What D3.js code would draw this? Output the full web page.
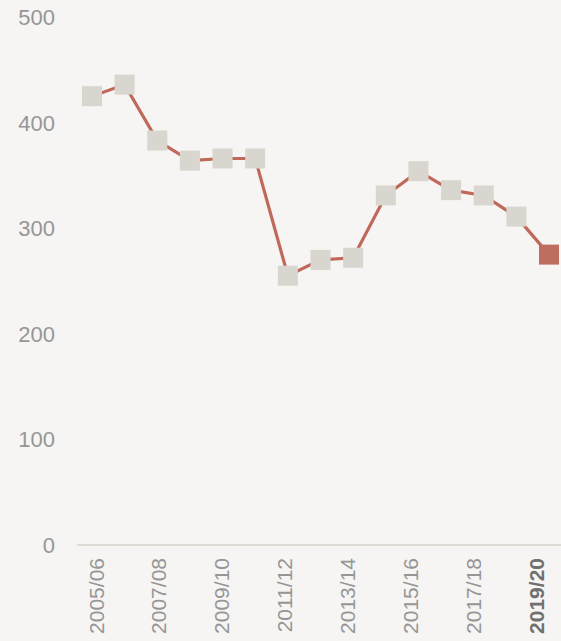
<!DOCTYPE html>
<html><head><meta charset="utf-8">
<script src="https://cdn.jsdelivr.net/npm/d3@7"></script>
<style>
html,body{margin:0;padding:0;background:#f6f5f3;}
svg{display:block;}
</style></head>
<body>
<svg id="chart" width="561" height="641"></svg>
<script>
const years = ["2005/06","2006/07","2007/08","2008/09","2009/10","2010/11","2011/12","2012/13","2013/14","2014/15","2015/16","2016/17","2017/18","2018/19","2019/20"];
const values = [425,436,383,364,366,366,255,270,272,331,354,336,331,311,275];
const yTicks = [0,100,200,300,400,500];
const labeledYears = ["2005/06","2007/08","2009/10","2011/12","2013/14","2015/16","2017/18","2019/20"];

const svg = d3.select("#chart");
const W = 561, H = 641;
svg.append("rect").attr("width",W).attr("height",H).attr("fill","#f6f5f3");

const x = d3.scalePoint().domain(years).range([92,549]);
const xLab = d3.scalePoint().domain(years).range([96,536]);
const y = d3.scaleLinear().domain([0,500]).range([545,17]);

// y labels
svg.append("g").selectAll("text").data(yTicks).join("text")
  .attr("x",55).attr("y",d=>y(d)).attr("dy","0.36em")
  .attr("text-anchor","end")
  .attr("font-family","'Liberation Sans', Arial, sans-serif")
  .attr("font-size",22).attr("fill","#969696")
  .text(d=>d);

// baseline
svg.append("line").attr("x1",77).attr("x2",W).attr("y1",y(0)).attr("y2",y(0))
  .attr("stroke","#dedbd4").attr("stroke-width",2);

// x labels
svg.append("g").selectAll("text").data(labeledYears).join("text")
  .attr("transform",d=>`translate(${xLab(d)},558) rotate(-90)`)
  .attr("dy","0.36em")
  .attr("text-anchor","end")
  .attr("font-family","'Liberation Sans', Arial, sans-serif")
  .attr("font-size",21)
  .attr("font-weight",(d,i,a)=> i===a.length-1 ? "bold":"normal")
  .attr("fill",(d,i,a)=> i===a.length-1 ? "#707070":"#969696")
  .text(d=>d);

const data = years.map((yr,i)=>({yr, v: values[i]}));

svg.append("path").datum(data)
  .attr("fill","none").attr("stroke","#c0695a").attr("stroke-width",3.2)
  .attr("d", d3.line().x(d=>x(d.yr)).y(d=>y(d.v)));

const S = 20;
svg.append("g").selectAll("rect").data(data).join("rect")
  .attr("x",d=>x(d.yr)-S/2).attr("y",d=>y(d.v)-S/2)
  .attr("width",S).attr("height",S)
  .attr("fill",(d,i)=> i===data.length-1 ? "#bd6e60" : "#d9d6cf");
</script>
</body></html>
